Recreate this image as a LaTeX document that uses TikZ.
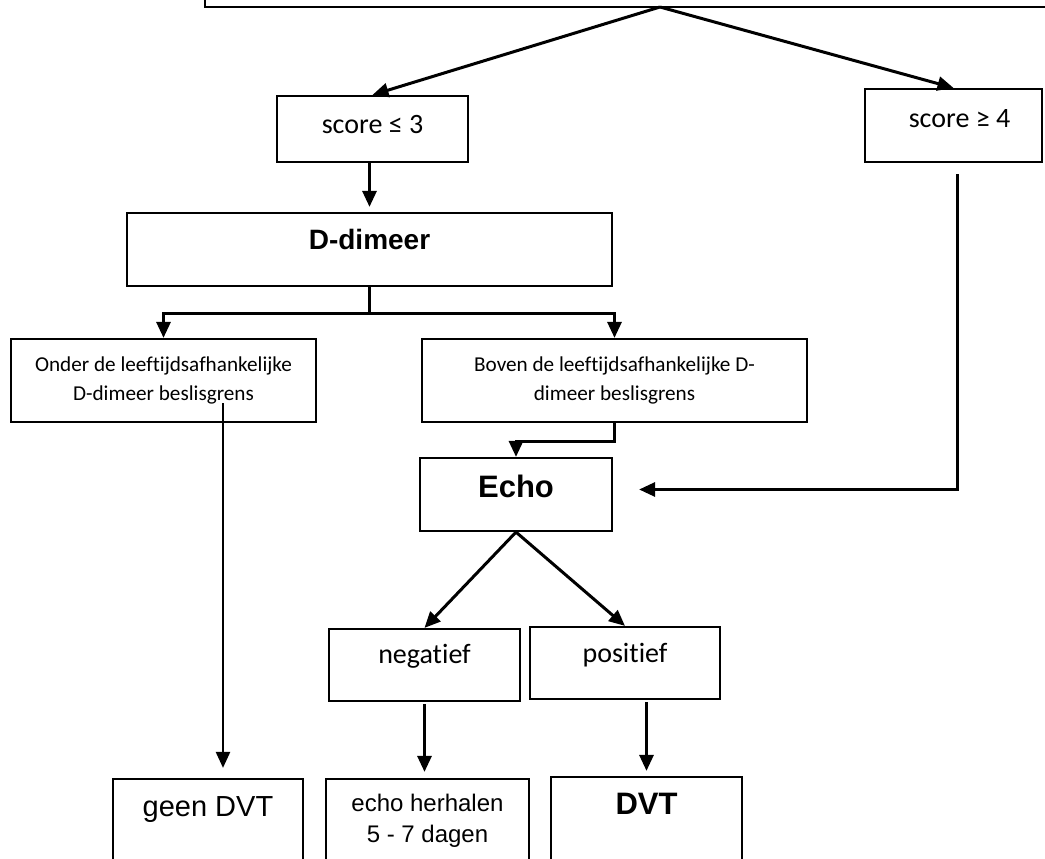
\documentclass[tikz,border=0pt]{standalone}
\usepackage{fontspec}
\usetikzlibrary{arrows.meta, calc, positioning}
\newfontfamily\calibrifont{Carlito}[Ligatures=NoCommon]
\newfontfamily\arialfont{Liberation Sans}

\begin{document}
\begin{tikzpicture}[x=1pt, y=-1pt,
    box/.style={draw, line width=2.2pt, inner sep=0pt},
    arr/.style={line width=3pt, -{Triangle[length=16pt, width=14pt]}},
    txt/.style={inner sep=0pt, anchor=base},
    calsmall/.style={font=\calibrifont\fontsize{21.2}{29.5}\selectfont, align=center, inner sep=0pt},
    calbig/.style={font=\calibrifont\fontsize{28}{32}\selectfont},
    arbig/.style={font=\arialfont\bfseries\fontsize{29}{34}\selectfont},
    arreg/.style={font=\arialfont\fontsize{24}{31}\selectfont, align=center, inner sep=0pt}]%
    \useasboundingbox (0,0) rectangle (1045,859);
    \clip (0,0) rectangle (1045,859);
    % boxes (top box and bottom row run past the page)
    \node [box, minimum width=855pt, minimum height=37pt] (top) at (632.5,-11.5) {};
    \node [box, minimum width=191pt, minimum height=66pt] (sc3) at (372.5,129) {};
    \node [box, minimum width=177pt, minimum height=73pt] (sc4) at (953.5,125.5) {};
    \node [box, minimum width=485pt, minimum height=73pt] (dd) at (369.5,249.5) {};
    \node [box, minimum width=305pt, minimum height=83pt] (onder) at (163.5,380.5) {};
    \node [box, minimum width=385pt, minimum height=83pt] (boven) at (614.5,380.5) {};
    \node [box, minimum width=192pt, minimum height=73pt] (echo) at (516,494.5) {};
    \node [box, minimum width=191pt, minimum height=72pt] (neg) at (424.5,665) {};
    \node [box, minimum width=190pt, minimum height=72pt] (pos) at (625,663) {};
    \node [box, minimum width=190pt, minimum height=102pt] (geen) at (208,830) {};
    \node [box, minimum width=203pt, minimum height=102pt] (herh) at (427.5,830) {};
    \node [box, minimum width=191pt, minimum height=104pt] (dvt) at (646.5,829) {};

    % texts
    \node [txt, calbig] (sc3-t) at ([yshift=-39pt]sc3.north) {score ≤ 3};
    \node [txt, calbig] (sc4-t) at ([xshift=6pt, yshift=-40pt]sc4.north) {score ≥ 4};
    \node [txt, arbig, font=\arialfont\bfseries\fontsize{28}{34}\selectfont] (dd-t) at ([yshift=-38pt]dd.north) {D-dimeer};
    \node [calsmall] (onder-t) at (onder.center) {Onder de leeftijdsafhankelijke\\D-dimeer beslisgrens};
    \node [calsmall] (boven-t) at (boven.center) {Boven de leeftijdsafhankelijke D-\\dimeer beslisgrens};
    \node [txt, arbig, font=\arialfont\bfseries\fontsize{31}{36}\selectfont] (echo-t) at ([yshift=-41pt]echo.north) {Echo};
    \node [txt, calbig] (neg-t) at ([yshift=-36pt]neg.north) {negatief};
    \node [txt, calbig] (pos-t) at ([yshift=-37pt]pos.north) {positief};
    \node [txt, font=\arialfont\fontsize{29}{34}\selectfont] (geen-t) at ([yshift=-39pt]geen.north) {geen DVT};
    \node [arreg] (herh-t) at ([yshift=-42.5pt]herh.north) {echo herhalen\\5 - 7 dagen};
    \node [txt, arbig, font=\arialfont\bfseries\fontsize{31}{36}\selectfont] (dvt-t) at ([yshift=-39pt]dvt.north) {DVT};

    % connectors
    \coordinate (fork) at (660,7);
    \draw [arr] (fork) -- (sc3.north);
    \draw [arr] (fork) -- (sc4.north);
    \draw [arr, shorten >=5pt] (sc3.south -| dd.north) -- (dd.north);
    \draw [arr] (dd.south) -- ++(0,26) -| (onder.north);
    \draw [arr] (dd.south) -- ++(0,26) -| (boven.north);
    \coordinate (onderpin) at (223,403);
    \draw [arr, line width=2.4pt, shorten >=10pt] (onderpin) -- (onderpin |- geen.north);
    \draw [arr] (boven.south) -- ++(0,18) -| (echo.north);
    \coordinate (sc4pin) at (957,174);
    \coordinate (echopin) at ([xshift=26pt, yshift=5pt]echo.east);
    \draw [arr] (sc4pin) |- (echopin);
    \draw [arr] (echo.south) -- (neg.north);
    \draw [arr] (echo.south) -- (pos.north);
    \draw [arr, shorten >=6pt] ([yshift=-2pt]neg.south) -- (neg.south |- herh.north);
    \draw [arr, shorten >=5pt] ([yshift=-2pt]dvt.north |- pos.south) -- (dvt.north);
\end{tikzpicture}
\end{document}
